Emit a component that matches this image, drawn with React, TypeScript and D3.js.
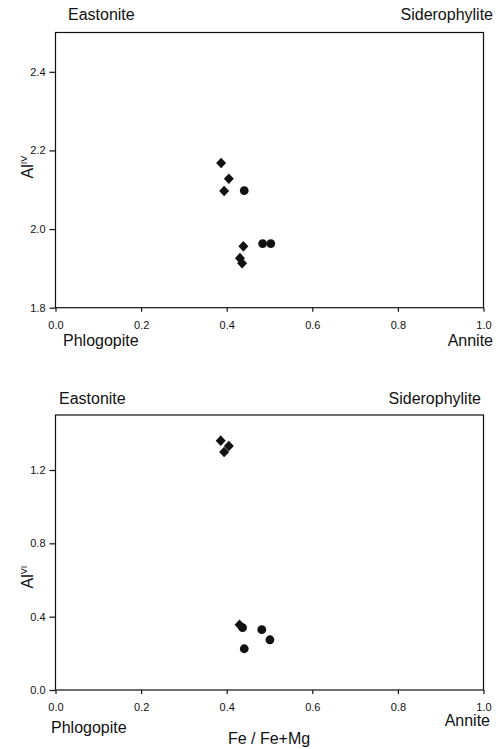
import React, { useEffect, useRef } from "react";
import * as d3 from "d3";

// Fe/(Fe+Mg) ticks shared by both panels
const X_TICKS = [0, 0.2, 0.4, 0.6, 0.8, 1.0];

// upper panel: Al(IV)
const AL4_TICKS = [1.8, 2.0, 2.2, 2.4];
const AL4_FE = [0.387, 0.405, 0.394, 0.441, 0.439, 0.431, 0.436, 0.484, 0.503];
const AL4 = [2.168, 2.128, 2.097, 2.098, 1.956, 1.926, 1.913, 1.963, 1.963];
const AL4_SHAPE = ["d", "d", "d", "c", "d", "d", "d", "c", "c"];

// lower panel: Al(VI)
const AL6_TICKS = [0.0, 0.4, 0.8, 1.2];
const AL6_FE = [0.386, 0.405, 0.394, 0.43, 0.437, 0.482, 0.501, 0.441];
const AL6 = [1.36, 1.331, 1.298, 0.356, 0.34, 0.329, 0.274, 0.225];
const AL6_SHAPE = ["d", "d", "d", "d", "c", "c", "c", "c"];

const INK = "#111";
const FONT = "'Liberation Sans', Arial, sans-serif";

function panel(svg, o) {
  const x = d3.scaleLinear().domain([0, 1]).range([55.5, 483.5]);
  const y = d3.scaleLinear().domain(o.domain).range([o.bottom, o.top]);
  const g = svg.append("g");

  g.append("rect").attr("x", 55.5).attr("y", o.top).attr("width", 428).attr("height", o.bottom - o.top)
    .attr("fill", "none").attr("stroke", INK).attr("stroke-width", 1.2);

  const ax = g.append("g").attr("transform", `translate(0,${o.bottom})`)
    .call(d3.axisBottom(x).tickValues(X_TICKS).tickFormat(d3.format(".1f")).tickSize(4).tickSizeOuter(0));
  ax.select(".domain").remove();
  ax.selectAll("line").attr("stroke", INK).attr("stroke-width", 1.2);
  ax.selectAll("text").attr("font-family", FONT).attr("font-size", 11).attr("fill", INK).attr("dy", "1.3em");

  const ay = g.append("g").attr("transform", "translate(55.5,0)")
    .call(d3.axisLeft(y).tickValues(o.ticks).tickFormat(d3.format(".1f")).tickSize(6).tickSizeOuter(0));
  ay.select(".domain").remove();
  ay.selectAll("line").attr("stroke", INK).attr("stroke-width", 1.2);
  ay.selectAll("text").attr("font-family", FONT).attr("font-size", 11).attr("fill", INK).attr("x", -10);

  const pts = o.fe.map((f, i) => ({ f, v: o.val[i], s: o.shape[i] }));
  g.selectAll("path.d").data(pts.filter((d) => d.s === "d")).enter().append("path")
    .attr("d", "M0,-5.3L5,0L0,5.3L-5,0Z")
    .attr("transform", (d) => `translate(${x(d.f)},${y(d.v)})`)
    .attr("fill", INK);
  g.selectAll("circle.c").data(pts.filter((d) => d.s === "c")).enter().append("circle")
    .attr("cx", (d) => x(d.f)).attr("cy", (d) => y(d.v)).attr("r", 4.4).attr("fill", INK);

  const lab = (tx, ty, s, anchor = "start") =>
    g.append("text").attr("x", tx).attr("y", ty).attr("text-anchor", anchor)
      .attr("font-family", FONT).attr("font-size", 16).attr("fill", INK).text(s);
  lab(o.east[0], o.east[1], "Eastonite");
  lab(o.sid[0], o.sid[1], "Siderophylite", "end");
  lab(o.phl[0], o.phl[1], "Phlogopite");
  lab(o.ann[0], o.ann[1], "Annite", "end");

  const yl = g.append("text").attr("transform", `translate(${o.ylab[0]},${o.ylab[1]}) rotate(-90)`)
    .attr("text-anchor", "middle").attr("font-family", FONT).attr("font-size", 16).attr("fill", INK);
  yl.append("tspan").text("Al");
  yl.append("tspan").attr("font-size", 9).attr("dy", -6).text(o.sup);
}

export default function App() {
  const ref = useRef(null);
  useEffect(() => {
    const node = ref.current;
    if (!node) return;
    const svg = d3.select(node);
    svg.selectAll("*").remove();
    panel(svg, {
      domain: [1.8, 2.5], top: 32.5, bottom: 307.7, ticks: AL4_TICKS,
      fe: AL4_FE, val: AL4, shape: AL4_SHAPE,
      east: [68, 20], sid: [493, 20], phl: [63, 346], ann: [493, 346],
      ylab: [33, 167], sup: "IV",
    });
    panel(svg, {
      domain: [0, 1.5], top: 415, bottom: 690, ticks: AL6_TICKS,
      fe: AL6_FE, val: AL6, shape: AL6_SHAPE,
      east: [59, 404], sid: [481, 404], phl: [51, 733], ann: [490, 726],
      ylab: [33, 577], sup: "VI",
    });
    svg.append("text").attr("x", 269).attr("y", 744).attr("text-anchor", "middle")
      .attr("font-family", FONT).attr("font-size", 16).attr("fill", INK).text("Fe / Fe+Mg");
  }, []);
  return (
    <svg ref={ref} width={501} height={749}
      style={{ position: "absolute", left: 0, top: 0, background: "#fff" }} />
  );
}
